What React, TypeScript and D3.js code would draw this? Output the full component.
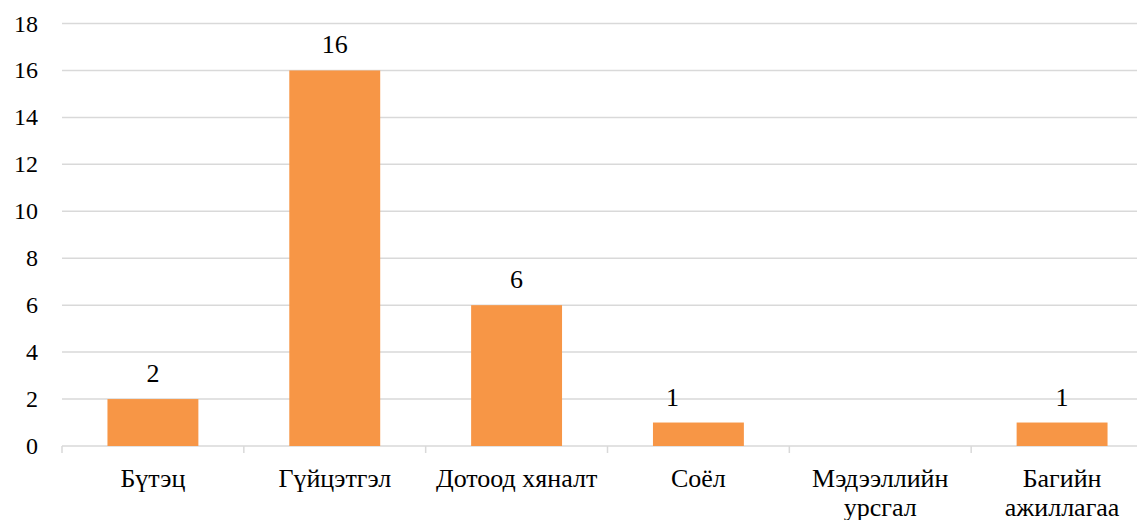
import React from 'react';
import * as d3 from 'd3';

const categories = ['Бүтэц', 'Гүйцэтгэл', 'Дотоод хяналт', 'Соёл', 'Мэдээллийн урсгал', 'Багийн ажиллагаа'];
const values = [2, 16, 6, 1, 0, 1];
const yTicks = [0, 2, 4, 6, 8, 10, 12, 14, 16, 18];

const width = 1137;
const height = 520;
const margin = { top: 23.5, right: -16, bottom: 74, left: 62 };
const font = 'Liberation Serif';
const textStyle = { fontFamily: "'Liberation Serif', 'Times New Roman', serif" };
const labelSize = 26;

// rough wrap: Liberation Serif averages about half an em per glyph
const wrap = (label: string, maxWidth: number) => {
    const lines: string[] = [];
    let line = '';
    label.split(' ').forEach(w => {
        const next = line ? line + ' ' + w : w;
        if (line && next.length * labelSize * 0.5 > maxWidth) {
            lines.push(line);
            line = w;
        } else {
            line = next;
        }
    });
    lines.push(line);
    return lines;
};

export default function App() {
    const data = categories.map((c, i) => ({ category: c, value: values[i] }));

    const xScale = d3.scaleBand<string>()
        .domain(categories)
        .range([margin.left, width - margin.right])
        .paddingInner(0.5)
        .paddingOuter(0.25);

    const yScale = d3.scaleLinear()
        .domain([0, 18])
        .range([height - margin.bottom, margin.top]);

    const y0 = yScale(0);
    const step = xScale.step();
    const boundaries = d3.range(categories.length + 1).map(i => margin.left + i * step);

    // the "Соёл" value label was nudged left in the original
    const nudge: Record<string, number> = { 'Соёл': -26 };

    return (
        <svg width={width} height={height} fontFamily={font} style={{ position: 'absolute', left: 0, top: 0 }}>
            {/* Gridlines */}
            {yTicks.map(t => (
                <line key={'g' + t} x1={margin.left} x2={width} y1={yScale(t)} y2={yScale(t)}
                    stroke="#d9d9d9" strokeWidth={1.5} />
            ))}

            {/* Y labels */}
            {yTicks.map(t => (
                <text key={'y' + t} x={38} y={yScale(t) + 8} textAnchor="end"
                    fontFamily={font} style={textStyle} fontSize={24} fill="#000">{t}</text>
            ))}

            {/* X tick marks */}
            {boundaries.map(b => (
                <line key={'t' + b} x1={b} x2={b} y1={y0} y2={y0 + 7} stroke="#d9d9d9" strokeWidth={1.5} />
            ))}

            {/* Bars */}
            {data.filter(d => d.value > 0).map(d => (
                <rect key={'b' + d.category} x={xScale(d.category)} y={yScale(d.value)}
                    width={xScale.bandwidth()} height={y0 - yScale(d.value)} fill="#f79646" />
            ))}

            {/* Value labels */}
            {data.filter(d => d.value > 0).map(d => (
                <text key={'v' + d.category}
                    x={xScale(d.category)! + xScale.bandwidth() / 2 + (nudge[d.category] || 0)}
                    y={yScale(d.value) - 17} textAnchor="middle"
                    fontFamily={font} style={textStyle} fontSize={labelSize} fill="#000">{d.value}</text>
            ))}

            {/* Category labels */}
            {categories.map(c => {
                const cx = xScale(c)! + xScale.bandwidth() / 2;
                return wrap(c, step - 10).map((l, i) => (
                    <text key={'c' + c + i} x={cx} y={y0 + 41 + i * 29} textAnchor="middle"
                        fontFamily={font} style={textStyle} fontSize={labelSize} fill="#000">{l}</text>
                ));
            })}
        </svg>
    );
}
